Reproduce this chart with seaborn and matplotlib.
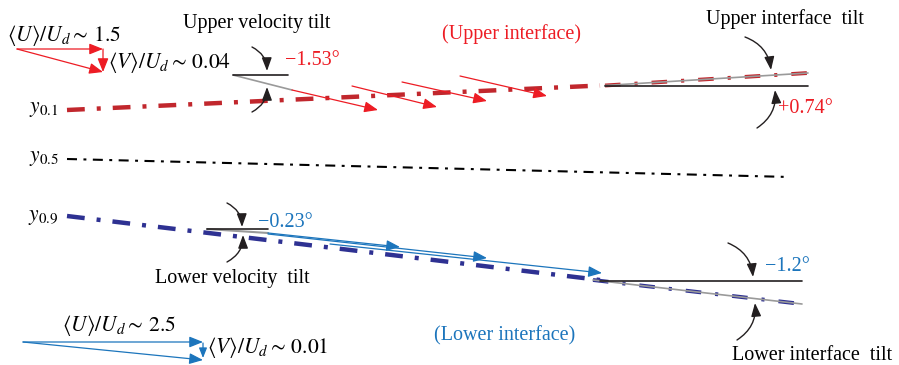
import matplotlib
matplotlib.use("Agg")
import matplotlib.pyplot as plt
import seaborn as sns

# ---------------- data (pixel-space schematic coordinates) ----------------
# iso-lines
y01_x = [67, 600];  y01_y = [110, 85.5]
y05_x = [67, 790];  y05_y = [159, 177]
y09_x = [67, 600];  y09_y = [216, 280]
# interface tilts (tilted segment + reference horizontal)
up_if_x = [605, 808]; up_if_y = [85.5, 73]
up_ref_x = [605, 808]; up_ref_y = [86, 86]
lo_if_x = [593, 802]; lo_if_y = [280, 304]
lo_ref_x = [600, 802]; lo_ref_y = [281, 281]
# velocity tilts
up_vt_x = [233, 292]; up_vt_y = [75, 90]
up_vref_x = [233, 288]; up_vref_y = [75, 75]
lo_vt_x = [207, 268]; lo_vt_y = [229, 233]
lo_vref_x = [207, 268]; lo_vref_y = [229, 229]
# velocity vectors (start x, start y, end x, end y)
red_vec_x0 = [292, 352, 402, 460]; red_vec_y0 = [90, 86, 82, 76]
red_vec_x1 = [378, 437, 487, 547]; red_vec_y1 = [110, 107, 101, 96]
blue_vec_x0 = [268, 268, 330]; blue_vec_y0 = [233, 234, 244]
blue_vec_x1 = [400, 487, 602]; blue_vec_y1 = [247, 258, 273]
# legend triangles
red_tri_x = [17, 103]; red_tri_y = [49, 72]
blue_tri_x = [23, 203]; blue_tri_y = [342, 360]

RED = "#ED1C24"; DRED = "#C1272D"
BLUE = "#1C75BC"; NAVY = "#2E3192"; GRAY = "#9A9A9A"; BLK = "#231F20"

sns.set_style("white")
plt.rcParams["font.family"] = ["Liberation Serif", "DejaVu Serif"]
plt.rcParams["mathtext.fontset"] = "stix"

fig = plt.figure(figsize=(8.99, 3.65), dpi=100)
ax = fig.add_axes([0, 0, 1, 1])

def line(x, y, **kw):
    sns.lineplot(x=x, y=y, ax=ax, sort=False, estimator=None, **kw)

# main iso-lines
line(y01_x, y01_y, color=DRED, lw=3.2, linestyle=(0, (4.0, 2.7, 0.9, 2.7)))
line(y05_x, y05_y, color="black", lw=1.5, linestyle=(0, (4.8, 3.1, 1.4, 3.1)))
line(y09_x, y09_y, color=NAVY, lw=3.2, linestyle=(0, (4.0, 2.7, 0.9, 2.7)))
# interface tilts
line(up_if_x, up_if_y, color=DRED, lw=2.8, linestyle=(0, (4.0, 3.6, 0.8, 3.6)))
line(up_if_x, up_if_y, color=GRAY, lw=1.2)
line(up_ref_x, up_ref_y, color=BLK, lw=1.2)
line(lo_if_x, lo_if_y, color=NAVY, lw=2.8, linestyle=(0, (4.0, 3.6, 0.8, 3.6)))
line(lo_if_x, lo_if_y, color=GRAY, lw=1.2)
line(lo_ref_x, lo_ref_y, color=BLK, lw=1.2)
# velocity tilts
line(up_vt_x, up_vt_y, color=GRAY, lw=1.2)
line(up_vref_x, up_vref_y, color=BLK, lw=1.2)
line(lo_vt_x, lo_vt_y, color=GRAY, lw=1.5)
line(lo_vref_x, lo_vref_y, color=BLK, lw=1.2)

def arrow(x0, y0, x1, y1, color, lw=0.9, ms=11, rad=0.0, hw=0.3, hl=0.75):
    ax.annotate("", xy=(x1, y1), xytext=(x0, y0),
                arrowprops=dict(arrowstyle=f"-|>,head_length={hl},head_width={hw}",
                                color=color, lw=lw,
                                shrinkA=0, shrinkB=0, mutation_scale=ms,
                                connectionstyle=f"arc3,rad={rad}"))

for a, b, c, d in zip(red_vec_x0, red_vec_y0, red_vec_x1, red_vec_y1):
    arrow(a, b, c, d, RED)
for a, b, c, d in zip(blue_vec_x0, blue_vec_y0, blue_vec_x1, blue_vec_y1):
    arrow(a, b, c, d, BLUE)

# vector triangles
arrow(red_tri_x[0], red_tri_y[0], red_tri_x[1], red_tri_y[0], RED)
arrow(red_tri_x[1], red_tri_y[0], red_tri_x[1], red_tri_y[1], RED)
arrow(red_tri_x[0], red_tri_y[0], red_tri_x[1], red_tri_y[1], RED)
arrow(blue_tri_x[0], blue_tri_y[0], blue_tri_x[1], blue_tri_y[0], BLUE)
arrow(blue_tri_x[1], blue_tri_y[0] + 1, blue_tri_x[1], blue_tri_y[1] - 2, BLUE, ms=8)
arrow(blue_tri_x[0], blue_tri_y[0], blue_tri_x[1], blue_tri_y[1], BLUE)

# curved black pointer arrows
curves = [((252, 47), (267, 71), -0.3), ((252, 112), (267, 87), 0.3),
          ((745, 37), (771, 70), -0.3), ((757, 128), (775, 90), 0.3),
          ((227, 203), (242, 227), -0.3), ((227, 262), (243, 235), 0.3),
          ((728, 243), (753, 277), -0.3), ((737, 340), (755, 303), 0.3)]
for (p0, p1, r) in curves:
    arrow(p0[0], p0[1], p1[0], p1[1], BLK, lw=1.0, ms=10, rad=r, hw=0.3, hl=0.8)

FS = 14.5
MFS = 15.5
def txt(x, y, s, color="black", ha="left", fs=FS):
    ax.text(x, y, s, color=color, ha=ha, va="baseline", fontsize=fs)

txt(257, 28, "Upper velocity tilt", ha="center")
txt(511, 39.5, "(Upper interface)", color=RED, ha="center")
txt(285, 65, "\u22121.53\u00b0", color=RED)
txt(785, 24, "Upper interface  tilt", ha="center")
txt(778, 113, "+0.74\u00b0", color=RED)
txt(7, 41.5, r"$\langle U\rangle/U_d \sim\, 1.5$", fs=MFS)
txt(108, 68, r"$\langle V\rangle/U_d \sim\, 0.04$", fs=MFS)
txt(29, 112, r"$y_{0.1}$", fs=MFS)
txt(29, 161, r"$y_{0.5}$", fs=MFS)
txt(28, 220, r"$y_{0.9}$", fs=MFS)
txt(258, 227, "\u22120.23\u00b0", color=BLUE)
txt(232, 283, "Lower velocity  tilt", ha="center")
txt(765, 271, "\u22121.2\u00b0", color=BLUE)
txt(812, 360, "Lower interface  tilt", ha="center")
txt(505, 340, "(Lower interface)", color=BLUE, ha="center")
txt(62, 331, r"$\langle U\rangle/U_d \sim\, 2.5$", fs=MFS)
txt(207, 353, r"$\langle V\rangle/U_d \sim\, 0.01$", fs=MFS)

ax.set_xlim(0, 899)
ax.set_ylim(365, 0)
ax.axis("off")
fig.savefig("out.png", dpi=100)
